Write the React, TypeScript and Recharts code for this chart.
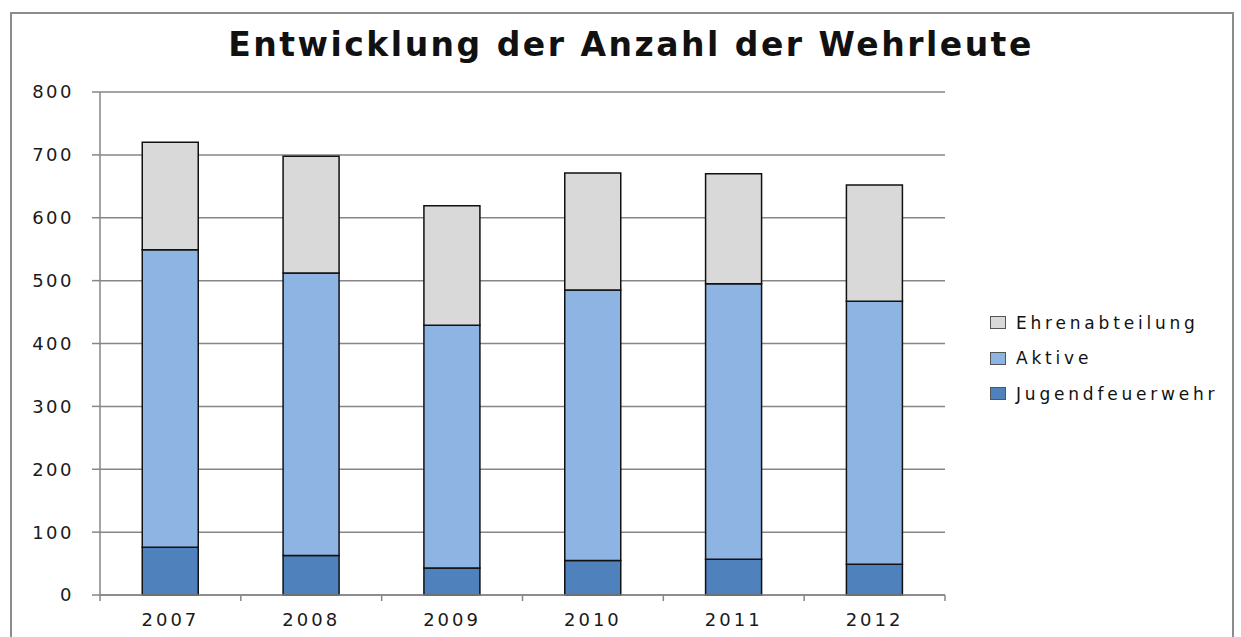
import { BarChart, Bar, XAxis, YAxis, CartesianGrid } from "recharts";

const years = ["2007", "2008", "2009", "2010", "2011", "2012"];
const jugend = [76, 63, 43, 55, 57, 49];
const aktive = [473, 449, 386, 430, 438, 418];
const ehren = [171, 186, 190, 186, 175, 185];
const yTicks = [0, 100, 200, 300, 400, 500, 600, 700, 800];

const series = [
  { key: "Jugendfeuerwehr", color: "#4F81BD" },
  { key: "Aktive", color: "#8EB4E3" },
  { key: "Ehrenabteilung", color: "#D9D9D9" },
];

const data = years.map((year, i) => ({
  year,
  Jugendfeuerwehr: jugend[i],
  Aktive: aktive[i],
  Ehrenabteilung: ehren[i],
}));

const GRID = "#868686";
const FONT = "'DejaVu Sans', Verdana, sans-serif";

function YearTick(props: any) {
  const { x, y, payload, index, visibleTicksCount } = props;
  const half = payload?.offset ?? 70.4;
  const last = index === visibleTicksCount - 1;
  return (
    <g>
      <line x1={x - half} x2={x - half} y1={y} y2={y + 6} stroke={GRID} strokeWidth={1.5} />
      {last && <line x1={x + half} x2={x + half} y1={y} y2={y + 6} stroke={GRID} strokeWidth={1.5} />}
      <text x={x} y={y + 31} textAnchor="middle" fill="#1a1a1a" fontSize={18} letterSpacing={3} fontFamily={FONT}>
        {payload.value}
      </text>
    </g>
  );
}

export default function App() {
  return (
    <div
      style={{
        position: "absolute",
        left: 10,
        top: 12,
        width: 1220,
        height: 640,
        border: "2px solid #8c8c8c",
        background: "#fff",
      }}
    >
      <div
        style={{
          position: "absolute",
          left: 0,
          width: 1238,
          top: 11,
          textAlign: "center",
          fontFamily: FONT,
          fontWeight: "bold",
          fontSize: 33,
          letterSpacing: 2.5,
          color: "#111",
        }}
      >
        Entwicklung der Anzahl der Wehrleute
      </div>
      <BarChart
        width={1220}
        height={623}
        data={data}
        margin={{ top: 78, right: 287, left: 28, bottom: 2 }}
        barCategoryGap="30%"
      >
        <CartesianGrid vertical={false} stroke={GRID} strokeWidth={1.5} />
        <XAxis
          dataKey="year"
          axisLine={{ stroke: GRID, strokeWidth: 1.5 }}
          tickLine={false}
          tickSize={0}
          tickMargin={0}
          height={40}
          tick={<YearTick />}
          interval={0}
        />
        <YAxis
          domain={[0, 800]}
          ticks={yTicks}
          width={60}
          axisLine={{ stroke: GRID, strokeWidth: 1.5 }}
          tickLine={{ stroke: GRID, strokeWidth: 1.5 }}
          tickSize={8}
          tickMargin={18}
          tick={{ fill: "#1a1a1a", fontSize: 18, fontFamily: FONT, letterSpacing: 2.5 }}
        />
        {series.map((s) => (
          <Bar
            key={s.key}
            dataKey={s.key}
            stackId="a"
            fill={s.color}
            stroke="#111"
            strokeWidth={1.5}
            isAnimationActive={false}
          />
        ))}
      </BarChart>
      <div
        style={{
          position: "absolute",
          left: 978,
          top: 291,
          fontFamily: FONT,
          fontSize: 17,
          letterSpacing: 3.8,
          color: "#111",
        }}
      >
        {[...series].reverse().map((s) => (
          <div key={s.key} style={{ display: "flex", alignItems: "center", height: 35.5 }}>
            <span
              style={{
                display: "inline-block",
                width: 14,
                height: 11,
                background: s.color,
                border: "1px solid #555",
                marginRight: 10,
              }}
            />
            {s.key}
          </div>
        ))}
      </div>
    </div>
  );
}
